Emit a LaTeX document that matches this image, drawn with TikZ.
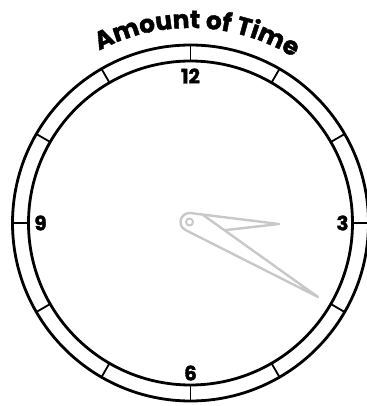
\documentclass[tikz,border=0pt]{standalone}
\usepackage{fontspec}
\usetikzlibrary{calc}
\usetikzlibrary{decorations.text}
\newfontfamily\clockfont{Poppins}[BoldFeatures={FakeBold=1.6}]
\newcommand\titlefont{\clockfont\bfseries\fontsize{25}{25}\selectfont}
\newcommand\numfont{\clockfont\bfseries\fontsize{20}{20}\selectfont}

\begin{document}
\begin{tikzpicture}[x=1bp,y=1bp]
                \definecolor{handcolor}{RGB}{200,200,200}
                \tikzset{numeral/.style={font=\numfont, inner sep=0pt},
                         rim/.style={line width=2.8bp},
                         hand/.style={handcolor, line width=2.4bp, line join=round}}
                
                \useasboundingbox (0,0) rectangle (367,406);
                
                \coordinate (C) at (190.5,183);
                
                % dial
                \draw[rim] (C) circle (178);
                \draw[rim] (C) circle (162);
                \foreach \a in {0,30,...,330}
                    \draw[line width=1.8bp] ($(C)+(\a:162)$) -- ($(C)+(\a:178)$);
                
                \node[numeral] (n12) at ($(C)+(90:147)$) {12};
                \node[numeral] (n3) at ($(C)+(0:152)$) {3};
                \node[numeral] (n6) at ($(C)+(270:150)$) {6};
                \node[numeral] (n9) at ($(C)+(180:150)$) {9};
                
                \path[decorate, decoration={text along path, text align=center,
                      text={|\titlefont|Amount of Time}}]
                      ($(C)+(128:195)$) arc (128:48:195);
                
                % hands
                \coordinate (P) at (189.5,184);
                \coordinate (H) at (279,182);
                \coordinate (M) at (318,109);
                \coordinate (S) at ($(P)+(80:9)$);
                \coordinate (L) at ($(P)+(248:9)$);
                \coordinate (K) at ($(S)!0.13!(H)$);
                \coordinate (J) at ($(K)!0.19!(M)$);
                
                \draw[hand] (L) arc (248:80:9) -- (H) -- (J);
                \draw[hand] (K) -- (M) -- (L);
                \draw[hand, line width=2bp] (P) circle (3.5);
            \end{tikzpicture}
\end{document}
